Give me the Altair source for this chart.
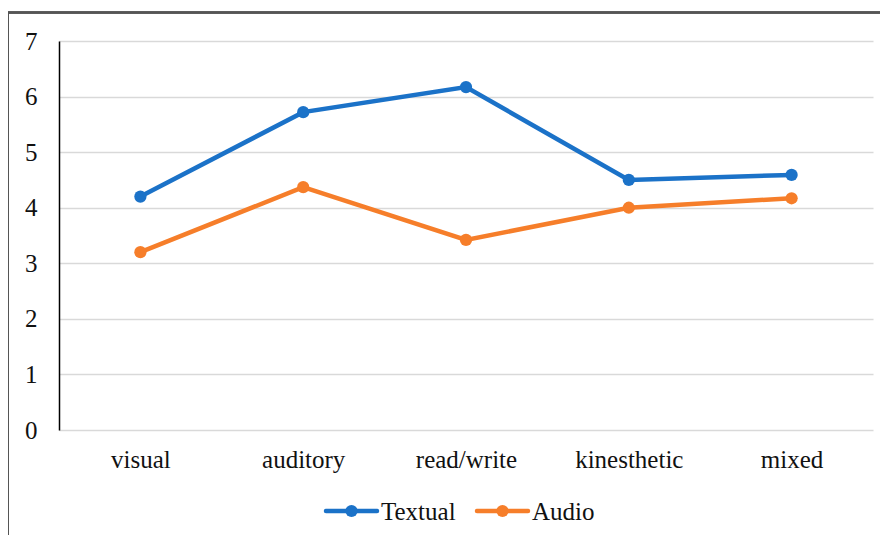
import altair as alt
import pandas as pd

categories = ["visual", "auditory", "read/write", "kinesthetic", "mixed"]
textual = [4.2, 5.72, 6.17, 4.5, 4.59]
audio = [3.2, 4.37, 3.42, 4.0, 4.17]
series_names = ["Textual", "Audio"]
colors = ["#1b72c8", "#f67e2a"]

rows = []
for c, v in zip(categories, textual):
    rows.append({"category": c, "value": v, "series": "Textual"})
for c, v in zip(categories, audio):
    rows.append({"category": c, "value": v, "series": "Audio"})
df = pd.DataFrame(rows)

FONT = "Liberation Serif"
FS = 25
W, H = 814, 389

x = alt.X("category:N", sort=categories, title=None,
          scale=alt.Scale(type="point", padding=0.5),
          axis=alt.Axis(domain=False, ticks=False, labelAngle=0, labelFont=FONT,
                        labelFontSize=FS, labelColor="#111111", labelPadding=17,
                        grid=False))
y = alt.Y("value:Q", title=None,
          scale=alt.Scale(domain=[0, 7], nice=False),
          axis=alt.Axis(values=[0, 1, 2, 3, 4, 5, 6, 7], domain=True, domainColor="#000000",
                        domainWidth=1.5, ticks=False, labelFont=FONT, labelFontSize=FS,
                        labelColor="#111111", labelPadding=22, grid=True,
                        gridColor="#d9d9d9", gridWidth=1.5))
cscale = alt.Scale(domain=series_names, range=colors)

lines = alt.Chart(df).mark_line(strokeWidth=4.5).encode(
    x=x, y=y,
    color=alt.Color("series:N", scale=cscale, legend=None),
    detail="series:N",
)
points = alt.Chart(df).mark_point(size=150, filled=True, opacity=1, shape="circle").encode(
    x=x, y=y,
    color=alt.Color("series:N", scale=cscale, legend=None),
)

frame = alt.Chart(df).mark_rect(fill=None, stroke="#555555", strokeWidth=1.5).encode(
    x=alt.value(-51), x2=alt.value(1200), y=alt.value(-28.5), y2=alt.value(1200)
)

# Manual legend (below the plot, centred)
LEG_Y = 470
LEG_X0 = 267
LEG_STEP = 151
SYM_W = 51
legend_layers = []
for i, (name, col) in enumerate(zip(series_names, colors)):
    x0 = LEG_X0 + i * LEG_STEP
    ldf = pd.DataFrame({"label": [name]})
    base = alt.Chart(ldf)
    legend_layers.append(base.mark_rule(color=col, strokeWidth=4.5, strokeCap="round").encode(
        x=alt.value(x0), x2=alt.value(x0 + SYM_W), y=alt.value(LEG_Y)))
    legend_layers.append(base.mark_point(color=col, filled=True, opacity=1, size=150,
                                         shape="circle").encode(
        x=alt.value(x0 + SYM_W / 2), y=alt.value(LEG_Y)))
    legend_layers.append(base.mark_text(align="left", baseline="middle", font=FONT,
                                        fontSize=FS, color="#111111", dy=1).encode(
        x=alt.value(x0 + SYM_W + 4), y=alt.value(LEG_Y), text="label:N"))

chart = alt.layer(frame, lines, points, *legend_layers).properties(
    width=W, height=H,
    padding={"left": 51, "top": 33, "right": 7, "bottom": 105},
    autosize=alt.AutoSizeParams(type="none"),
    background="white",
).configure_view(stroke=None)

chart.save("out.html", embed_options={"renderer": "svg", "actions": False})
